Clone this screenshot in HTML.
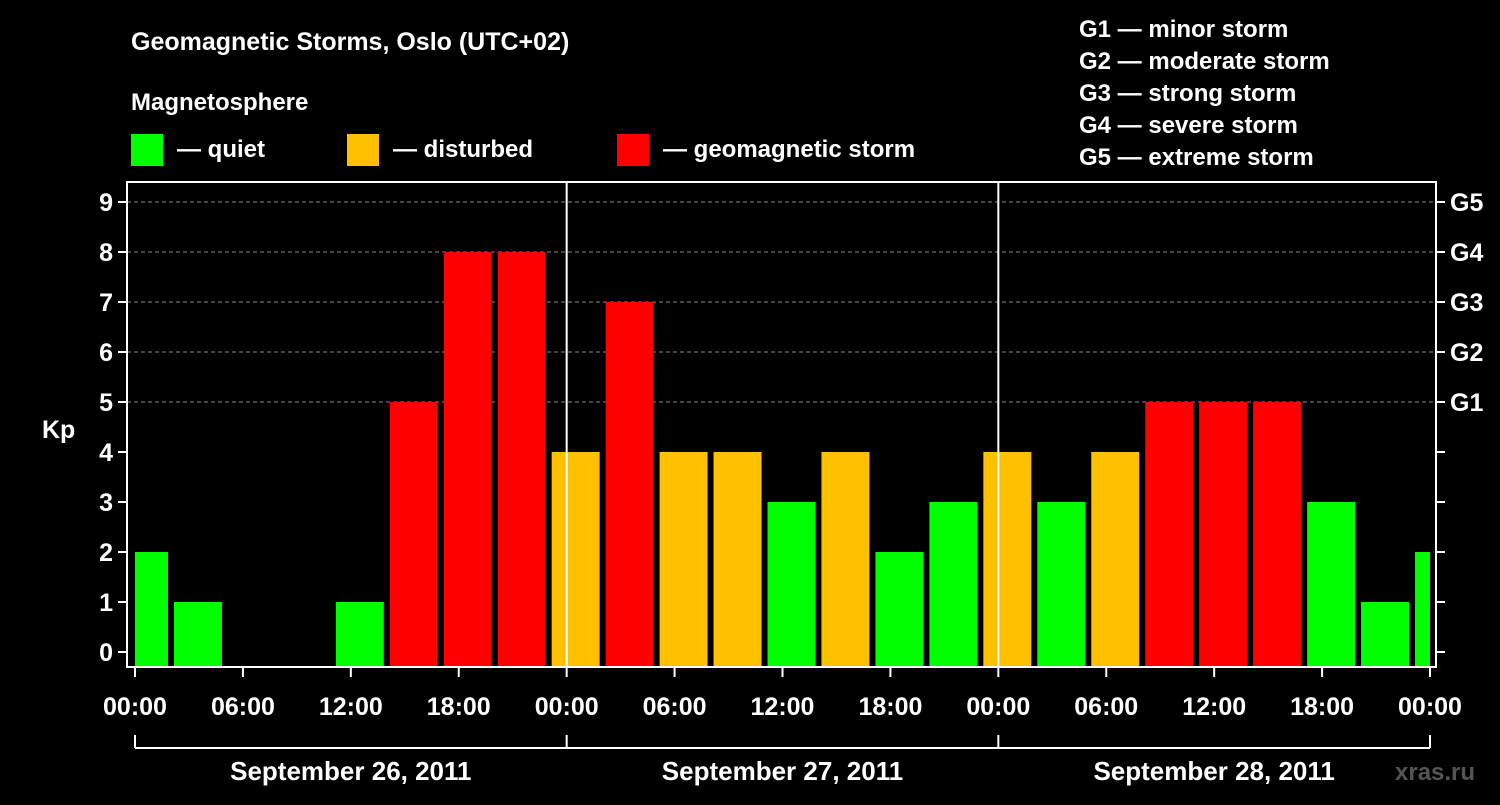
<!DOCTYPE html>
<html><head><meta charset="utf-8"><style>
html,body{margin:0;padding:0;background:#000;}
svg text{font-family:"Liberation Sans",Arial,sans-serif;font-weight:bold;fill:#fff;}
</style></head><body>
<svg id="chart" width="1500" height="800" viewBox="0 0 1500 800" xmlns="http://www.w3.org/2000/svg">
<rect width="1500" height="800" fill="#000"/>
<text x="131" y="50" font-size="25">Geomagnetic Storms, Oslo (UTC+02)</text>
<text x="131" y="110" font-size="24">Magnetosphere</text>
<g>
<rect x="131" y="134" width="32" height="32" fill="#00ff00"/>
<text x="177" y="157" font-size="24">— quiet</text>
<rect x="347" y="134" width="32" height="32" fill="#ffc000"/>
<text x="393" y="157" font-size="24">— disturbed</text>
<rect x="617" y="134" width="32" height="32" fill="#ff0000"/>
<text x="663" y="157" font-size="24">— geomagnetic storm</text>
</g>
<g font-size="24">
<text x="1079" y="37">G1 — minor storm</text>
<text x="1079" y="69">G2 — moderate storm</text>
<text x="1079" y="101">G3 — strong storm</text>
<text x="1079" y="133">G4 — severe storm</text>
<text x="1079" y="165">G5 — extreme storm</text>
</g>
<text x="42" y="438" font-size="25">Kp</text>
<text x="1395" y="780" font-size="24" fill="#555" style="fill:#555">xras.ru</text>
<g id="grid"></g><g id="bars"></g><g id="axes"></g>
</svg>
<script>
const kpValues=[2,1,null,null,1,5,8,8,4,7,4,4,3,4,2,3,4,3,4,5,5,5,3,1,2];
const yTicks=[0,1,2,3,4,5,6,7,8,9];
const gLabels=["G1","G2","G3","G4","G5"];
const xTickLabels=["00:00","06:00","12:00","18:00","00:00","06:00","12:00","18:00","00:00","06:00","12:00","18:00","00:00"];
const dayLabels=["September 26, 2011","September 27, 2011","September 28, 2011"];
const firstBarHour=-1;

const NS="http://www.w3.org/2000/svg";
const X0=135,X1=1430,HOURS=72,PB=667,PT=182,L=127,R=1436;
const xs=h=>X0+(X1-X0)*h/HOURS;
const ys=v=>652-50*v;
function mk(tag,attrs,parent){const e=document.createElementNS(NS,tag);for(const k in attrs)e.setAttribute(k,attrs[k]);parent.appendChild(e);return e;}
const grid=document.getElementById('grid'),bars=document.getElementById('bars'),axes=document.getElementById('axes');

for(let v=5;v<=9;v++){const l=mk('line',{x1:L,x2:R,y1:ys(v),y2:ys(v),stroke:'#888','stroke-dasharray':'4,3','stroke-width':1},grid);

}

kpValues.forEach((v,i)=>{if(v===null)return;
const hs=firstBarHour+3*i;let x=Math.max(xs(hs)+3,X0);let x2=Math.min(xs(hs+3)-3,X1);
const c=v>=5?'#ff0000':(v>=4?'#ffc000':'#00ff00');
const r=mk('rect',{x:x,y:ys(v),width:x2-x,height:PB-ys(v),fill:c},bars);

});

const frame=mk('rect',{x:L,y:PT,width:R-L,height:PB-PT,fill:'none',stroke:'#fff','stroke-width':2},axes);


[24,48].forEach(h=>{const l=mk('line',{x1:xs(h),x2:xs(h),y1:PT,y2:PB,stroke:'#fff','stroke-width':2},axes);

});

yTicks.forEach(v=>{mk('line',{x1:L-9,x2:L,y1:ys(v),y2:ys(v),stroke:'#fff','stroke-width':2},axes);
mk('line',{x1:R,x2:R+9,y1:ys(v),y2:ys(v),stroke:'#fff','stroke-width':2},axes);
const t=mk('text',{x:L-14,y:ys(v)+9,'font-size':25,'text-anchor':'end'},axes);t.textContent=v;

});
gLabels.forEach((g,i)=>{const t=mk('text',{x:1450,y:ys(5+i)+9,'font-size':25},axes);t.textContent=g;

});

xTickLabels.forEach((s,i)=>{const x=xs(i*6);mk('line',{x1:x,x2:x,y1:PB,y2:PB+10,stroke:'#fff','stroke-width':2},axes);
const t=mk('text',{x:x,y:715,'font-size':25,'text-anchor':'middle'},axes);t.textContent=s;

});

mk('line',{x1:X0,x2:X1,y1:748,y2:748,stroke:'#fff','stroke-width':2},axes);
for(let d=0;d<=3;d++)mk('line',{x1:xs(d*24),x2:xs(d*24),y1:735,y2:748,stroke:'#fff','stroke-width':2},axes);
dayLabels.forEach((s,i)=>{const t=mk('text',{x:xs(i*24+12),y:780,'font-size':26,'text-anchor':'middle'},axes);t.textContent=s;

});
</script>
</body></html>
